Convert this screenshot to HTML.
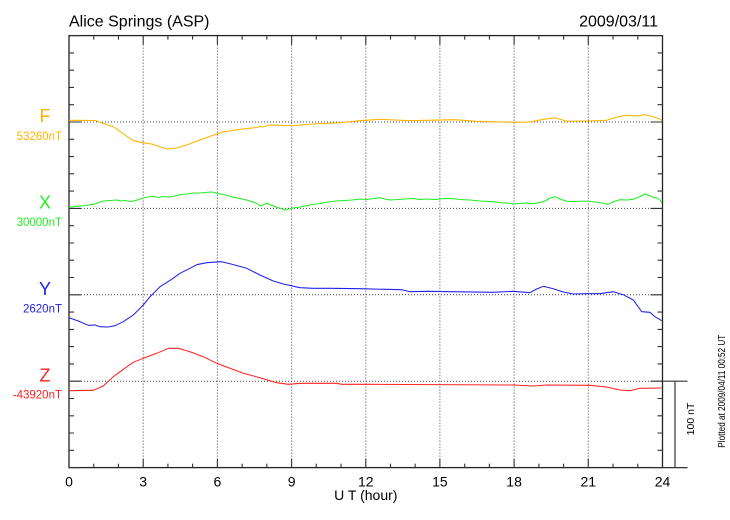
<!DOCTYPE html>
<html><head><meta charset="utf-8"><style>
html,body{margin:0;padding:0;background:#fff;}
svg{display:block;}
text{font-family:"Liberation Sans",Arial,sans-serif;}
</style></head><body>
<svg width="730" height="520" viewBox="0 0 730 520" xmlns="http://www.w3.org/2000/svg">
<rect width="730" height="520" fill="#fff"/>
<!-- title -->
<text x="69" y="26.7" font-size="16" fill="#000">Alice Springs (ASP)</text>
<text x="658" y="26.7" font-size="16" fill="#000" text-anchor="end">2009/03/11</text>

<!-- grid -->
<g stroke="#444" stroke-width="1" stroke-dasharray="1 2" fill="none">
<line x1="143.2" y1="35.6" x2="143.2" y2="467.6"/>
<line x1="217.4" y1="35.6" x2="217.4" y2="467.6"/>
<line x1="291.6" y1="35.6" x2="291.6" y2="467.6"/>
<line x1="365.8" y1="35.6" x2="365.8" y2="467.6"/>
<line x1="439.9" y1="35.6" x2="439.9" y2="467.6"/>
<line x1="514.1" y1="35.6" x2="514.1" y2="467.6"/>
<line x1="588.3" y1="35.6" x2="588.3" y2="467.6"/>
<line x1="69" y1="122" x2="662.5" y2="122"/>
<line x1="69" y1="208.4" x2="662.5" y2="208.4"/>
<line x1="69" y1="294.8" x2="662.5" y2="294.8"/>
<line x1="69" y1="381.2" x2="662.5" y2="381.2"/>
</g>

<!-- frame -->
<rect x="69" y="35.6" width="593.5" height="432" fill="none" stroke="#222" stroke-width="1.3"/>

<!-- scale bar -->
<g stroke="#333" stroke-width="1.2">
<line x1="662.5" y1="381.2" x2="687.5" y2="381.2"/>
<line x1="662.5" y1="467.6" x2="687.5" y2="467.6"/>
<line x1="675" y1="381.2" x2="675" y2="467.6"/>
</g>
<text transform="translate(694,419) rotate(-90)" font-size="10.5" text-anchor="middle" fill="#000">100 nT</text>
<text transform="translate(725,447.7) rotate(-90)" font-size="10.5" fill="#000" textLength="113" lengthAdjust="spacingAndGlyphs">Plotted at 2009/04/11 00:52 UT</text>

<!-- series -->
<g fill="none" stroke-width="1.05" stroke-linejoin="round">
<polyline stroke="#FFB400" points="69,120.3 95,120.5 113.3,126.7 133.3,140.7 143.3,142.7 151.7,144 166.7,149 175,148.5 186.7,145 200,140 216.7,134 223,132 240,129.3 257,127.5 260,126.2 263,127 270,125 291.7,125.7 313,124 340,122.7 360,120.7 380,119.3 410,120.7 455,119.7 476.7,121.3 513.3,122.3 530,122 541.7,119.7 555,117.7 566.7,121.3 586.7,121 606.7,120.3 616.7,117 626.7,115.3 636.7,116 645,114.7 653.3,116.7 660,119 662,120.7"/>
<polyline stroke="#22EE22" points="69,207.3 75,206.5 80,206 86,205.5 93.3,204.3 98,203 103,201 110,200.5 116.7,200 121,201 125,200.5 130,201.5 135,200.7 140,199 143.3,198 148,197 153.3,196.3 158,197.5 163,196.5 170,197 175,196 180,194.7 186,194 193.3,193 200,193 205,192.5 211.7,192 216,193 220,194 226,195 233.3,197.3 240,198.5 246.7,200 253,202 256,203 260,206 263,205 266,203.5 268.3,203.7 272,205.5 276.7,207.3 281,208.5 285,210 289,209 293.3,208 300,207 310,205 320,203.5 328,202 336.7,201 345,200.5 352,200 360,199 367,199.5 374,198.5 380,197.7 385,199 390,200 398,199.5 405,199 412,198.5 420,199.5 426.7,199 435,199.5 445,198.5 453.3,198.7 460,199.5 470,200 480,201 493.3,201.7 503,203 508,203 513.3,204 519,203.5 526.7,203 533,203.5 540,202.7 546,200.5 550,198 555,196.7 560,199 566.7,201.3 575,201.5 586.7,201 595,202 602,203 608.3,204.3 614,201.5 620,199.7 627,200 633.3,199.3 639,197 645,194 649,195.5 653.3,197.3 657,198 660,200 662,203"/>
<polyline stroke="#2222EE" points="69,317.7 78.3,321 88.3,325.3 95,325 100,326.7 108.3,327 115,325.7 123.3,321.7 133.3,315 143.3,305 150,296.7 160,286.7 171.7,279.3 180,273.3 190,268.3 196.7,264.7 206.7,262.7 221.7,261.7 230,263.7 246.7,268.3 260,275 273.3,281 283.3,284 300,287.7 313.3,288.3 330,288.3 360,288.7 401.7,289.7 410,291.7 426.7,291.3 493.3,292.3 513.3,291.3 530,292.7 536.7,289 543.3,286.3 553.3,288.7 563.3,292 573.3,294 586.7,293.7 600,293.7 613.3,291.7 623.3,294.7 633.3,300 641.7,311.7 650,312.3 655,316.7 661.7,320.7"/>
<polyline stroke="#FF2222" points="69,390.7 93.3,390.3 103.3,386 113.3,376.7 123.3,369.3 133.3,362.3 143.3,358.3 156.7,353.3 168.3,348.3 178.3,348.3 190,351.7 203.3,356.7 216.7,363.3 230,368.3 243.3,373.3 260,377.7 276.7,382.7 288.3,384.3 300,383.3 336.7,383.3 341.7,384.3 369,384.3 513.3,385 533.3,386 546.7,385 590,385.3 606.7,387 620,390 630,390.7 640,388.3 661.7,388"/>
</g>

<!-- labels -->
<g font-size="18" text-anchor="middle">
<text x="45" y="122" fill="#FFB400">F</text>
<text x="45" y="208.7" fill="#22EE22">X</text>
<text x="45" y="295" fill="#2222EE">Y</text>
<text x="45" y="381.3" fill="#FF2222">Z</text>
</g>
<g font-size="11.5" text-anchor="end">
<text x="62" y="139.8" fill="#FFB400">53260nT</text>
<text x="62" y="225.8" fill="#22EE22">30000nT</text>
<text x="62" y="312.3" fill="#2222EE">2620nT</text>
<text x="62" y="398.7" fill="#FF2222">-43920nT</text>
</g>

<!-- x tick labels -->
<g font-size="14" text-anchor="middle" fill="#000">
<text x="69" y="486.5">0</text>
<text x="143.2" y="486.5">3</text>
<text x="217.4" y="486.5">6</text>
<text x="291.6" y="486.5">9</text>
<text x="365.8" y="486.5">12</text>
<text x="439.9" y="486.5">15</text>
<text x="514.1" y="486.5">18</text>
<text x="588.3" y="486.5">21</text>
<text x="662.5" y="486.5">24</text>
</g>
<text x="365.8" y="500" font-size="14" text-anchor="middle" fill="#000">U T (hour)</text>

<g stroke="#333" stroke-width="1.1">
<path d="M93.73,467.6v-4M118.46,467.6v-4M143.2,467.6v-9M167.9,467.6v-4M192.6,467.6v-4M217.4,467.6v-9M242.1,467.6v-4M266.8,467.6v-4M291.6,467.6v-9M316.3,467.6v-4M341.0,467.6v-4M365.8,467.6v-9M390.5,467.6v-4M415.2,467.6v-4M439.9,467.6v-9M464.7,467.6v-4M489.4,467.6v-4M514.1,467.6v-9M538.9,467.6v-4M563.6,467.6v-4M588.3,467.6v-9M613.0,467.6v-4M637.8,467.6v-4"/>
<path d="M93.73,35.6v4M118.46,35.6v4M143.2,35.6v9M167.9,35.6v4M192.6,35.6v4M217.4,35.6v9M242.1,35.6v4M266.8,35.6v4M291.6,35.6v9M316.3,35.6v4M341.0,35.6v4M365.8,35.6v9M390.5,35.6v4M415.2,35.6v4M439.9,35.6v9M464.7,35.6v4M489.4,35.6v4M514.1,35.6v9M538.9,35.6v4M563.6,35.6v4M588.3,35.6v9M613.0,35.6v4M637.8,35.6v4"/>
<path d="M69,35.6h12M69,52.9h5M69,70.2h5M69,87.4h5M69,104.7h5M69,122h12M69,139.3h5M69,156.6h5M69,173.8h5M69,191.1h5M69,208.4h12M69,225.7h5M69,243h5M69,260.2h5M69,277.5h5M69,294.8h12M69,312.1h5M69,329.4h5M69,346.6h5M69,363.9h5M69,381.2h12M69,398.5h5M69,415.8h5M69,433h5M69,450.3h5M69,467.6h12"/>
<path d="M662.5,35.6h-12M662.5,52.9h-5M662.5,70.2h-5M662.5,87.4h-5M662.5,104.7h-5M662.5,122h-12M662.5,139.3h-5M662.5,156.6h-5M662.5,173.8h-5M662.5,191.1h-5M662.5,208.4h-12M662.5,225.7h-5M662.5,243h-5M662.5,260.2h-5M662.5,277.5h-5M662.5,294.8h-12M662.5,312.1h-5M662.5,329.4h-5M662.5,346.6h-5M662.5,363.9h-5M662.5,381.2h-12M662.5,398.5h-5M662.5,415.8h-5M662.5,433h-5M662.5,450.3h-5M662.5,467.6h-12"/>
</g>
</svg>
</body></html>
